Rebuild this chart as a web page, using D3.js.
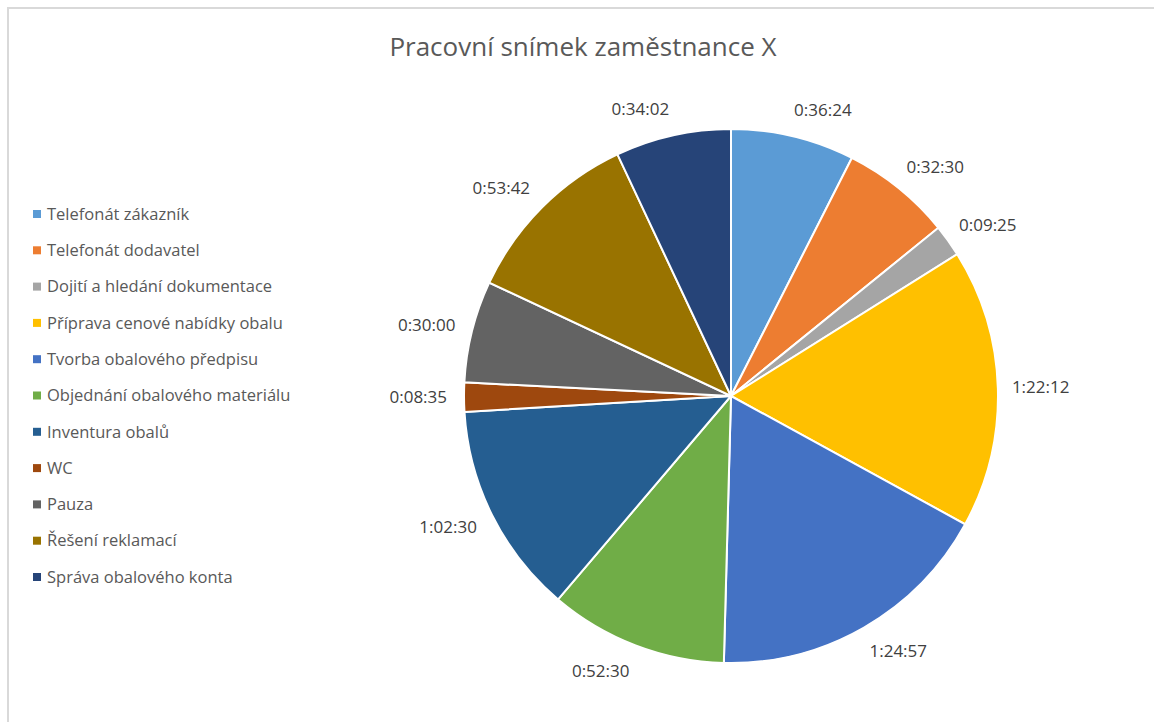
<!DOCTYPE html>
<html>
<head>
<meta charset="utf-8">
<script src="https://cdn.jsdelivr.net/npm/d3@7"></script>
<style>
  body { margin: 0; background: #fff; }
  text { font-family: "Open Sans", sans-serif; }
</style>
</head>
<body>
<div class="container"></div>
<script>
var categories = ["Telefonát zákazník", "Telefonát dodavatel", "Dojití a hledání dokumentace",
    "Příprava cenové nabídky obalu", "Tvorba obalového předpisu", "Objednání obalového materiálu",
    "Inventura obalů", "WC", "Pauza", "Řešení reklamací", "Správa obalového konta"];
var durations = ["0:36:24", "0:32:30", "0:09:25", "1:22:12", "1:24:57", "0:52:30",
    "1:02:30", "0:08:35", "0:30:00", "0:53:42", "0:34:02"];
var colors = ["#5B9BD5", "#ED7D31", "#A5A5A5", "#FFC000", "#4472C4", "#70AD47",
    "#255E91", "#9E480E", "#636363", "#997300", "#264478"];

function toSeconds(s) {
    var p = s.split(":");
    return (+p[0]) * 3600 + (+p[1]) * 60 + (+p[2]);
}

var w = 1154, h = 722;
var cx = 731, cy = 396, r = 267;

var svg = d3.select(".container")
    .append("svg")
    .attr("width", w)
    .attr("height", h);

// chart border (only top/left visible in the crop)
svg.append("rect")
    .attr("x", 8).attr("y", 8)
    .attr("width", w + 20).attr("height", h + 20)
    .attr("fill", "none")
    .attr("stroke", "#d9d9d9")
    .attr("stroke-width", 2);

svg.append("text")
    .attr("x", 583)
    .attr("y", 56)
    .attr("text-anchor", "middle")
    .attr("font-size", "26px")
    .attr("fill", "#595959")
    .text("Pracovní snímek zaměstnance X");

var dataset = [];
for (var i = 0; i < categories.length; i++) {
    dataset.push({name: categories[i], label: durations[i], value: toSeconds(durations[i]), color: colors[i]});
}

var pie = d3.pie().sort(null).value(function(d) { return d.value; });
var arc = d3.arc().innerRadius(0).outerRadius(r);
var arcs = pie(dataset);

var g = svg.append("g").attr("transform", "translate(" + cx + "," + cy + ")");

g.selectAll("path")
    .data(arcs)
    .enter()
    .append("path")
    .attr("d", arc)
    .attr("fill", function(d) { return d.data.color; })
    .attr("stroke", "#fff")
    .attr("stroke-width", 2);

var lr = r + 17;
g.selectAll("text.lbl")
    .data(arcs)
    .enter()
    .append("text")
    .attr("class", "lbl")
    .attr("x", function(d) {
        var a = (d.startAngle + d.endAngle) / 2;
        return lr * Math.sin(a) + (Math.sin(a) >= 0 ? -3 : 0);
    })
    .attr("y", function(d) {
        var a = (d.startAngle + d.endAngle) / 2;
        return -lr * Math.cos(a) - Math.cos(a) * 10;
    })
    .attr("dy", "0.35em")
    .attr("text-anchor", function(d) {
        var a = (d.startAngle + d.endAngle) / 2;
        return Math.sin(a) >= 0 ? "start" : "end";
    })
    .attr("font-size", "17px")
    .attr("fill", "#404040")
    .text(function(d) { return d.data.label; });

var legend = svg.append("g");
var ly = d3.scaleLinear().domain([0, categories.length - 1]).range([214, 577]);

legend.selectAll("rect")
    .data(dataset)
    .enter()
    .append("rect")
    .attr("x", 33)
    .attr("y", function(d, i) { return ly(i) - 4; })
    .attr("width", 8)
    .attr("height", 8)
    .attr("fill", function(d) { return d.color; });

legend.selectAll("text")
    .data(dataset)
    .enter()
    .append("text")
    .attr("x", 47)
    .attr("y", function(d, i) { return ly(i); })
    .attr("dy", "0.35em")
    .attr("font-size", "16.5px")
    .attr("fill", "#595959")
    .text(function(d) { return d.name; });
</script>
</body>
</html>
